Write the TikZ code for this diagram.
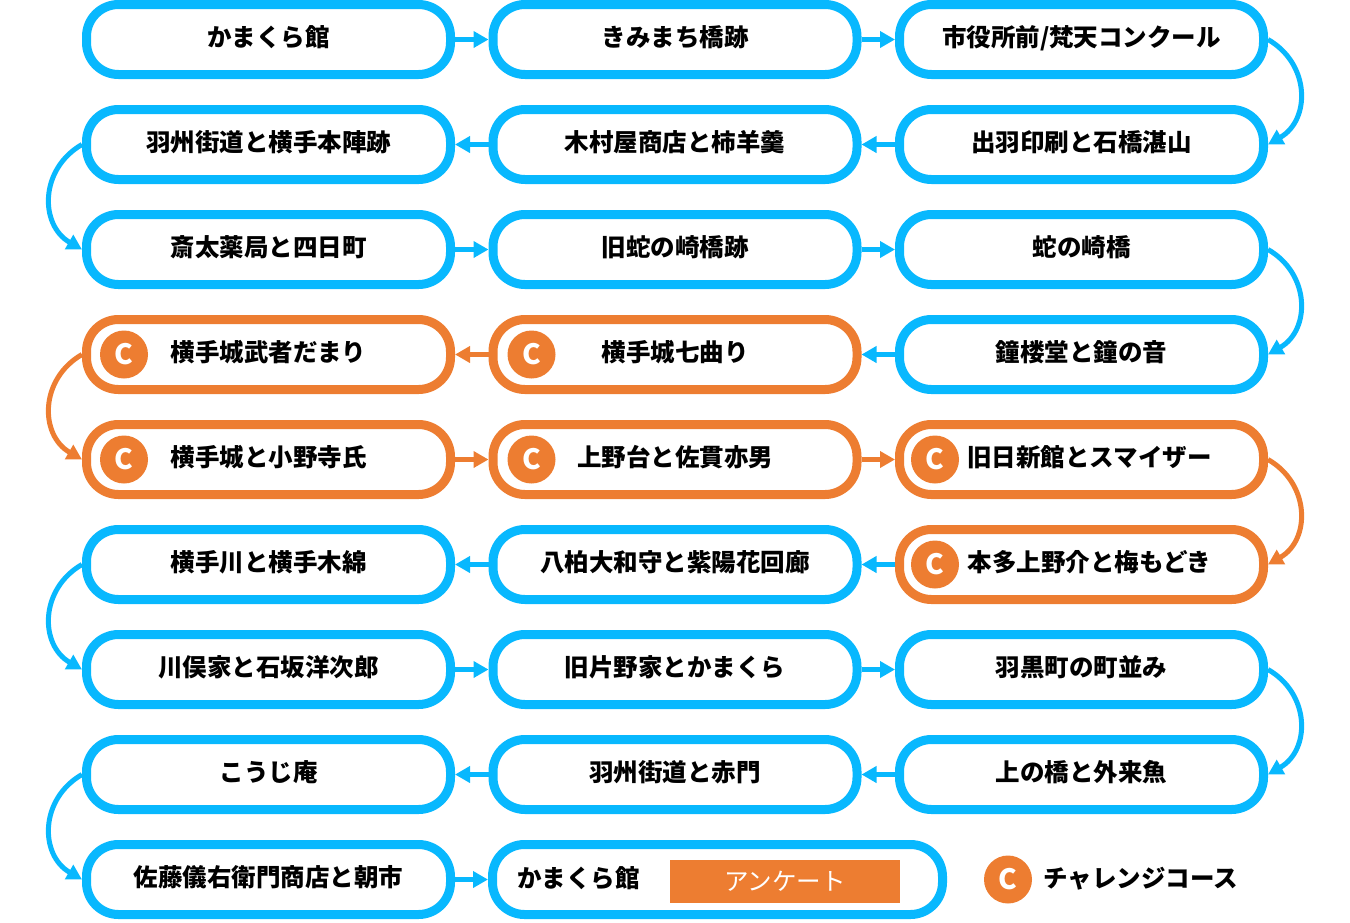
\documentclass[tikz,border=0pt]{standalone}
\usepackage{fontspec}
\setmainfont{Noto Sans CJK JP}
\usetikzlibrary{positioning,arrows.meta}
\definecolor{routeBlue}{RGB}{8,184,254}
\definecolor{challengeOrange}{RGB}{237,125,49}
\tikzset{%
  >={Triangle[width=16pt,length=15pt]},
  % Specifications for style of nodes:
        base/.style = {rectangle, rounded corners=32pt, line width=9pt,
                       minimum width=364pt, minimum height=70pt,
                       text centered, fill=white, text depth=7pt,
                       font=\fontsize{24.5}{28}\selectfont\bfseries},
       route/.style = {base, draw=routeBlue},
   challenge/.style = {base, draw=challengeOrange},
       cmark/.style = {circle, fill=challengeOrange, minimum size=48pt,
                       inner sep=0pt, text=white,
                       font=\fontsize{28}{30}\selectfont\bfseries},
    blueLink/.style = {->, line width=5pt, draw=routeBlue},
  orangeLink/.style = {->, line width=5pt, draw=challengeOrange},
}

\begin{document}
\begin{tikzpicture}[x=1pt, y=1pt, on grid, node distance=105pt and 406.5pt]
  \useasboundingbox (0,0) rectangle (1350,-922);
  % Specification of nodes (position, etc.)
  \node (kamakuraBlock)    [route] at (268.5,-39.5)        {かまくら館};
  \node (kimimachiBlock)   [route, right=of kamakuraBlock]  {きみまち橋跡};
  \node (shiyakushoBlock)  [route, right=of kimimachiBlock]
                                              {市役所前/梵天コンクール};
  \node (dewaBlock)        [route, below=of shiyakushoBlock]
                                                  {出羽印刷と石橋湛山};
  \node (kimuraBlock)      [route, below=of kimimachiBlock]
                                                  {木村屋商店と柿羊羹};
  \node (ushuBlock)        [route, below=of kamakuraBlock]
                                                {羽州街道と横手本陣跡};
  \node (saitaBlock)       [route, below=of ushuBlock]  {斎太薬局と四日町};
  \node (kyuJanosakiBlock) [route, below=of kimuraBlock]   {旧蛇の崎橋跡};
  \node (janosakiBlock)    [route, below=of dewaBlock]        {蛇の崎橋};
  \node (shorodoBlock)     [route, below=of janosakiBlock]
                                                      {鐘楼堂と鐘の音};
  \node (nanamagariBlock)  [challenge, below=of kyuJanosakiBlock]
                                                        {横手城七曲り};
  \node (mushadamariBlock) [challenge, below=of saitaBlock]
                                                    {横手城武者だまり};
  \node (onoderaBlock)     [challenge, below=of mushadamariBlock]
                                                    {横手城と小野寺氏};
  \node (uenodaiBlock)     [challenge, below=of nanamagariBlock]
                                                    {上野台と佐貫亦男};
  \node (kyuNisshinBlock)  [challenge, below=of shorodoBlock]
                                {\hspace*{16pt}旧日新館とスマイザー};
  \node (hondaBlock)       [challenge, below=of kyuNisshinBlock]
                                {\hspace*{16pt}本多上野介と梅もどき};
  \node (yagashiwaBlock)   [route, below=of uenodaiBlock]
                                            {八柏大和守と紫陽花回廊};
  \node (yokoteRiverBlock) [route, below=of onoderaBlock]
                                                    {横手川と横手木綿};
  \node (kawamataBlock)    [route, below=of yokoteRiverBlock]
                                                  {川俣家と石坂洋次郎};
  \node (katanoBlock)      [route, below=of yagashiwaBlock]
                                                  {旧片野家とかまくら};
  \node (haguroBlock)      [route, below=of hondaBlock]  {羽黒町の町並み};
  \node (kamiBridgeBlock)  [route, below=of haguroBlock] {上の橋と外来魚};
  \node (akamonBlock)      [route, below=of katanoBlock] {羽州街道と赤門};
  \node (kojiBlock)        [route, below=of kawamataBlock]    {こうじ庵};
  \node (satoBlock)        [route, below=of kojiBlock]
                                            {佐藤儀右衛門商店と朝市};
  \node (goalBlock)        [route, minimum width=450pt, anchor=west]
                           at ([xshift=33pt]satoBlock.east) {};
  \node (goalText)   [inner sep=0pt, anchor=west,
                      font=\fontsize{24.5}{28}\selectfont\bfseries]
                     at ([xshift=29pt, yshift=1pt]goalBlock.west) {かまくら館};
  \node (surveyTag)  [fill=challengeOrange, text=white, anchor=west,
                      minimum width=230pt, minimum height=43pt,
                      font=\fontsize{24.5}{28}\selectfont]
                     at ([xshift=182pt, yshift=-2pt]goalBlock.west) {アンケート};
  % challenge marks
  \node (nanamagariMark)  [cmark] at ([xshift=43pt]nanamagariBlock.west)  {C};
  \node (mushadamariMark) [cmark] at ([xshift=42pt]mushadamariBlock.west) {C};
  \node (onoderaMark)     [cmark] at ([xshift=42pt]onoderaBlock.west)     {C};
  \node (uenodaiMark)     [cmark] at ([xshift=43pt]uenodaiBlock.west)     {C};
  \node (kyuNisshinMark)  [cmark] at ([xshift=40pt]kyuNisshinBlock.west)  {C};
  \node (hondaMark)       [cmark] at ([xshift=40pt]hondaBlock.west)       {C};
  \node (legendMark)      [cmark] at ([xshift=61pt]goalBlock.east)        {C};
  \node (legendText) [inner sep=0pt, anchor=west,
                      font=\fontsize{24.5}{28}\selectfont\bfseries]
                     at ([xshift=11pt, yshift=1pt]legendMark.east) {チャレンジコース};
  % Specification of lines between nodes specified above
  \draw[blueLink]   (kamakuraBlock) -- (kimimachiBlock);
  \draw[blueLink]  (kimimachiBlock) -- (shiyakushoBlock);
  \draw[blueLink] (shiyakushoBlock.east) to[out=-30, in=30, looseness=1.2]
                                        (dewaBlock.east);
  \draw[blueLink]       (dewaBlock) -- (kimuraBlock);
  \draw[blueLink]     (kimuraBlock) -- (ushuBlock);
  \draw[blueLink] (ushuBlock.west) to[out=210, in=150, looseness=1.2]
                                        (saitaBlock.west);
  \draw[blueLink]      (saitaBlock) -- (kyuJanosakiBlock);
  \draw[blueLink] (kyuJanosakiBlock) -- (janosakiBlock);
  \draw[blueLink] (janosakiBlock.east) to[out=-30, in=30, looseness=1.2]
                                        (shorodoBlock.east);
  \draw[blueLink]    (shorodoBlock) -- (nanamagariBlock);
  \draw[orangeLink] (nanamagariBlock) -- (mushadamariBlock);
  \draw[orangeLink] (mushadamariBlock.west) to[out=210, in=150, looseness=1.2]
                                        (onoderaBlock.west);
  \draw[orangeLink]  (onoderaBlock) -- (uenodaiBlock);
  \draw[orangeLink]  (uenodaiBlock) -- (kyuNisshinBlock);
  \draw[orangeLink] (kyuNisshinBlock.east) to[out=-30, in=30, looseness=1.2]
                                        (hondaBlock.east);
  \draw[blueLink]      (hondaBlock) -- (yagashiwaBlock);
  \draw[blueLink]  (yagashiwaBlock) -- (yokoteRiverBlock);
  \draw[blueLink] (yokoteRiverBlock.west) to[out=210, in=150, looseness=1.2]
                                        (kawamataBlock.west);
  \draw[blueLink]   (kawamataBlock) -- (katanoBlock);
  \draw[blueLink]     (katanoBlock) -- (haguroBlock);
  \draw[blueLink] (haguroBlock.east) to[out=-30, in=30, looseness=1.2]
                                        (kamiBridgeBlock.east);
  \draw[blueLink] (kamiBridgeBlock) -- (akamonBlock);
  \draw[blueLink]     (akamonBlock) -- (kojiBlock);
  \draw[blueLink] (kojiBlock.west) to[out=210, in=150, looseness=1.2]
                                        (satoBlock.west);
  \draw[blueLink]       (satoBlock) -- (goalBlock);
\end{tikzpicture}
\end{document}
